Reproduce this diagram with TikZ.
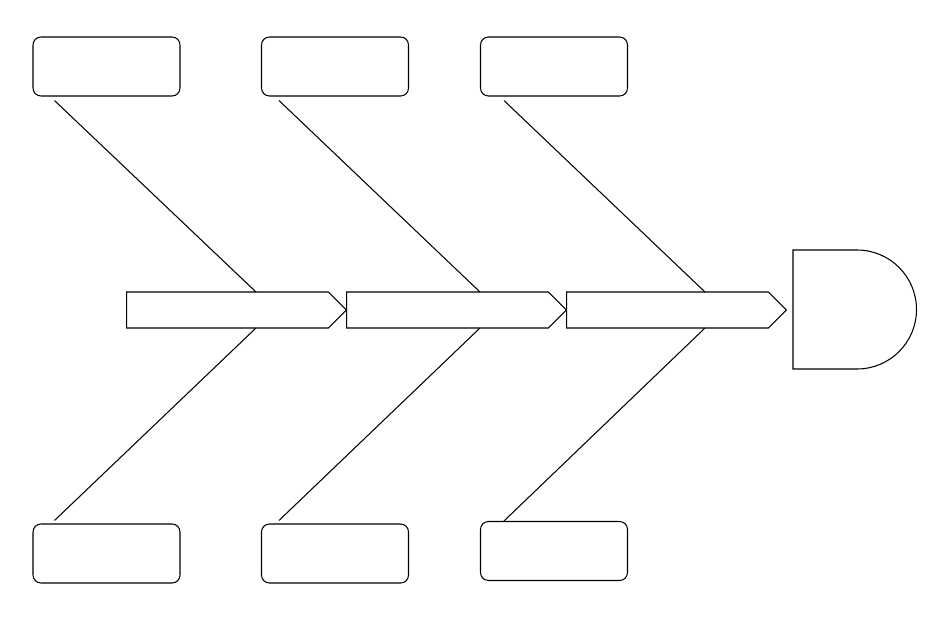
\documentclass[tikz,border=0pt]{standalone}
\usetikzlibrary{shapes.symbols}
\begin{document}
\begin{tikzpicture}[x=0.02cm,y=0.02cm,semithick,
  causebox/.style={draw,rounded corners=4.5pt,minimum width=2.94cm,minimum height=1.18cm,inner sep=0pt},
  bone/.style={draw,signal,signal to=east,signal pointer angle=90,minimum width=4.4cm,minimum height=0.72cm,inner sep=0pt,anchor=west}]%
\useasboundingbox (0,0) rectangle (931,-619);%
% cause boxes
\node [causebox] (top1) at (106.5,-66.5) {};%
\node [causebox] (top2) at (335,-66.5) {};%
\node [causebox] (top3) at (554,-66.5) {};%
\node [causebox] (bot1) at (106.5,-553.5) {};%
\node [causebox] (bot2) at (335,-553.5) {};%
\node [causebox] (bot3) at (554,-551) {};%
% spine
\node [bone] (sp1) at (126,-310) {};%
\node [bone] (sp2) at (346,-310) {};%
\node [bone] (sp3) at (566,-310) {};%
% head
\draw (793,-250) -- (857,-250) arc (90:-90:59.5) -- (793,-369) -- cycle;%
% where the bones meet the spine
\coordinate (j1t) at (256,-292);%
\coordinate (j2t) at (480,-292);%
\coordinate (j3t) at (705,-292);%
\coordinate (j1b) at (256,-328);%
\coordinate (j2b) at (480,-328);%
\coordinate (j3b) at (705,-328);%
\draw ([shift={(22,-4)}]top1.south west) -- (j1t);%
\draw ([shift={(18,-4)}]top2.south west) -- (j2t);%
\draw ([shift={(24,-4)}]top3.south west) -- (j3t);%
\draw ([shift={(22,3)}]bot1.north west) -- (j1b);%
\draw ([shift={(18,3)}]bot2.north west) -- (j2b);%
\draw ([shift={(24,0)}]bot3.north west) -- (j3b);%
\end{tikzpicture}
\end{document}
